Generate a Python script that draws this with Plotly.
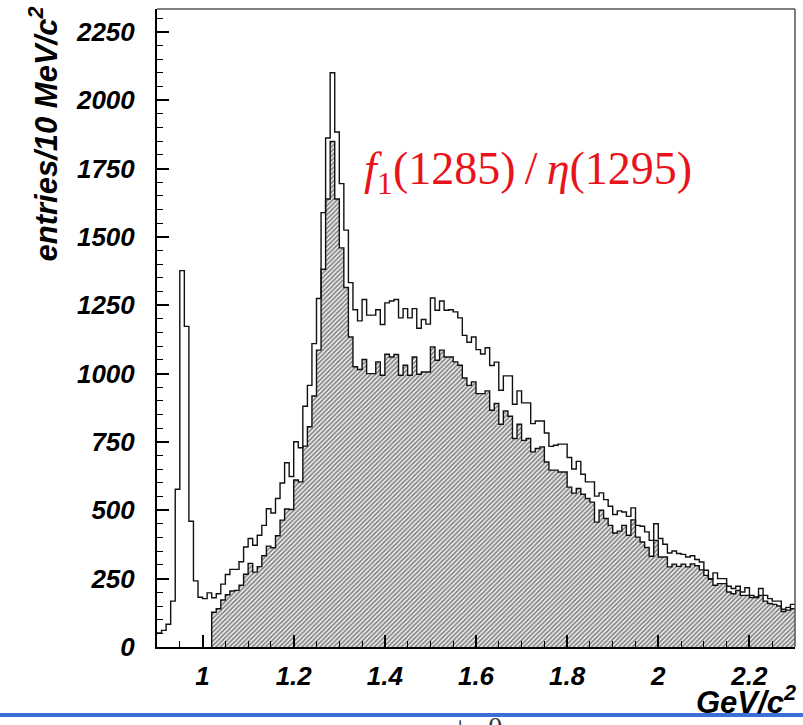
import numpy as np
import plotly.graph_objects as go

# ---------------- data ----------------
x_lo = 0.90          # lower edge of first bin (GeV/c^2)
bin_width = 0.01     # 10 MeV/c^2 bins

all_counts = [
    51, 61, 83, 168, 577, 1377, 1173, 460, 242, 182,
    177, 198, 180, 195, 230, 265, 284, 284, 312, 366,
    397, 372, 409, 445, 506, 490, 543, 600, 674, 624,
    751, 729, 881, 957, 1110, 1275, 1589, 1862, 2101, 1884,
    1695, 1525, 1333, 1234, 1193, 1271, 1214, 1214, 1234, 1180,
    1259, 1266, 1271, 1204, 1238, 1204, 1238, 1166, 1198, 1181,
    1277, 1232, 1266, 1232, 1234, 1226, 1204, 1140, 1115, 1134,
    1088, 1072, 1095, 1030, 1042, 939, 992, 992, 888, 937,
    893, 893, 817, 827, 827, 783, 734, 738, 742, 742,
    693, 651, 679, 632, 604, 604, 552, 564, 539, 515,
    485, 498, 494, 478, 509, 445, 442, 421, 390, 451,
    397, 376, 344, 351, 342, 339, 329, 334, 320, 311,
    281, 250, 271, 250, 250, 222, 214, 222, 201, 217,
    189, 183, 214, 189, 177, 168, 168, 138, 145, 156,
]

hatch_first_bin = 12
selected_counts = [
    127, 140, 172, 191, 205, 207, 226, 266,
    306, 274, 294, 334, 369, 363, 407, 464, 505, 503,
    611, 604, 735, 806, 918, 1086, 1382, 1639, 1849, 1639,
    1460, 1315, 1134, 1025, 1015, 1052, 1000, 1000, 1043, 994,
    1071, 1061, 1070, 994, 1031, 994, 1061, 998, 1006, 1006,
    1098, 1049, 1086, 1061, 1061, 1043, 1031, 984, 957, 970,
    927, 927, 937, 866, 891, 815, 864, 844, 763, 815,
    756, 763, 714, 726, 732, 677, 647, 647, 640, 640,
    585, 563, 580, 559, 543, 530, 457, 500, 470, 445,
    417, 424, 445, 409, 465, 402, 384, 364, 332, 390,
    329, 329, 293, 303, 295, 303, 293, 304, 297, 282,
    262, 248, 226, 232, 232, 201, 195, 207, 189, 189,
    181, 181, 189, 168, 159, 156, 150, 130, 135, 140,
]

peak_label = "<i>f</i><sub>1</sub>(1285)\u2009/\u2009<i>η</i>(1295)"
peak_label_pos = (1.714, 1737)
y_title = "entries/10 MeV/c<sup>2</sup>"
x_title = "GeV/c<sup>2</sup>"
footer_text = "π<sup>−</sup>π<sup>+</sup>π<sup>0</sup>  S. U. Chung  (BNL)"

x_range = [0.9, 2.3]
y_range = [0, 2334]

# ---------------- build step outlines ----------------
n = len(all_counts)
edges = np.round(x_lo + bin_width * np.arange(n + 1), 4)

x_open = list(edges)
y_open = list(all_counts) + [all_counts[-1]]

sel_edges = edges[hatch_first_bin:]
x_sel = [sel_edges[0]] + list(sel_edges)
y_sel = [0] + list(selected_counts) + [selected_counts[-1]]

fig = go.Figure()

fig.add_trace(go.Scatter(
    x=x_sel, y=y_sel, mode="lines",
    line=dict(shape="hv", color="#111111", width=1.4),
    fill="tozeroy", fillcolor="white",
    fillpattern=dict(shape="/", fgcolor="#111111", bgcolor="white",
                     size=3.2, solidity=0.6),
    hoverinfo="skip", showlegend=False,
))

fig.add_trace(go.Scatter(
    x=x_open, y=y_open, mode="lines",
    line=dict(shape="hv", color="#111111", width=1.4),
    hoverinfo="skip", showlegend=False,
))

tick_font = dict(family="Liberation Sans, Arial, sans-serif", size=26,
                 color="black", weight="bold", style="italic")

fig.update_xaxes(
    range=x_range, dtick=0.2, tick0=0, ticks="inside", ticklen=12,
    tickwidth=1.5, tickcolor="black", tickfont=tick_font,
    showline=True, linecolor="black", linewidth=2, mirror=False,
    showgrid=False, zeroline=False, ticklabelstandoff=5,
    minor=dict(dtick=0.05, tick0=0, ticks="inside", ticklen=6,
               tickwidth=1.2, tickcolor="black", showgrid=False),
)
fig.update_yaxes(
    range=y_range, dtick=250, tick0=0, ticks="inside", ticklen=12,
    tickwidth=1.5, tickcolor="black", tickfont=tick_font,
    showline=True, linecolor="black", linewidth=2, mirror=False,
    showgrid=False, zeroline=False, ticklabelstandoff=15,
    exponentformat="none",
    minor=dict(dtick=50, tick0=0, ticks="inside", ticklen=6,
               tickwidth=1.2, tickcolor="black", showgrid=False),
)

W, H = 803, 725
ml, mr, mt, mb = 157, 8, 9, 78
pw, ph = W - ml - mr, H - mt - mb

def px_x(p):
    return (p - ml) / pw

def px_y(p):
    return (H - mb - p) / ph

fig.update_layout(
    width=W, height=H,
    margin=dict(l=ml, r=mr, t=mt, b=mb),
    paper_bgcolor="white", plot_bgcolor="white",
    shapes=[
        dict(type="line", xref="paper", yref="paper", x0=0, x1=1, y0=1, y1=1,
             line=dict(color="#555555", width=1.5)),
        dict(type="line", xref="paper", yref="paper", x0=1, x1=1, y0=0, y1=1,
             line=dict(color="#555555", width=1.5)),
        dict(type="line", xref="paper", yref="paper",
             x0=px_x(0), x1=px_x(W), y0=px_y(715), y1=px_y(715),
             line=dict(color="#3c6fd4", width=4)),
    ],
    annotations=[
        dict(text=peak_label, x=peak_label_pos[0], y=peak_label_pos[1],
             xref="x", yref="y", showarrow=False, xanchor="center", yanchor="middle",
             font=dict(family="Liberation Serif, Times New Roman, serif", size=46,
                       color="#e8141c")),
        dict(text=y_title, textangle=-90, xref="paper", yref="paper",
             x=px_x(44), y=px_y(6), xanchor="center", yanchor="top",
             showarrow=False, borderpad=0,
             font=dict(family="Liberation Sans, Arial, sans-serif", size=31,
                       color="black", weight="bold", style="italic")),
        dict(text=x_title, xref="paper", yref="paper",
             x=px_x(797), y=px_y(700), xanchor="right", yanchor="middle",
             showarrow=False, borderpad=0,
             font=dict(family="Liberation Sans, Arial, sans-serif", size=31,
                       color="black", weight="bold", style="italic")),
        dict(text=footer_text, xref="paper", yref="paper",
             x=px_x(395), y=px_y(710), xanchor="left", yanchor="top",
             showarrow=False, borderpad=0,
             font=dict(family="Liberation Serif, Times New Roman, serif", size=40,
                       color="#333333")),
    ],
)

fig.write_html("out.html")
